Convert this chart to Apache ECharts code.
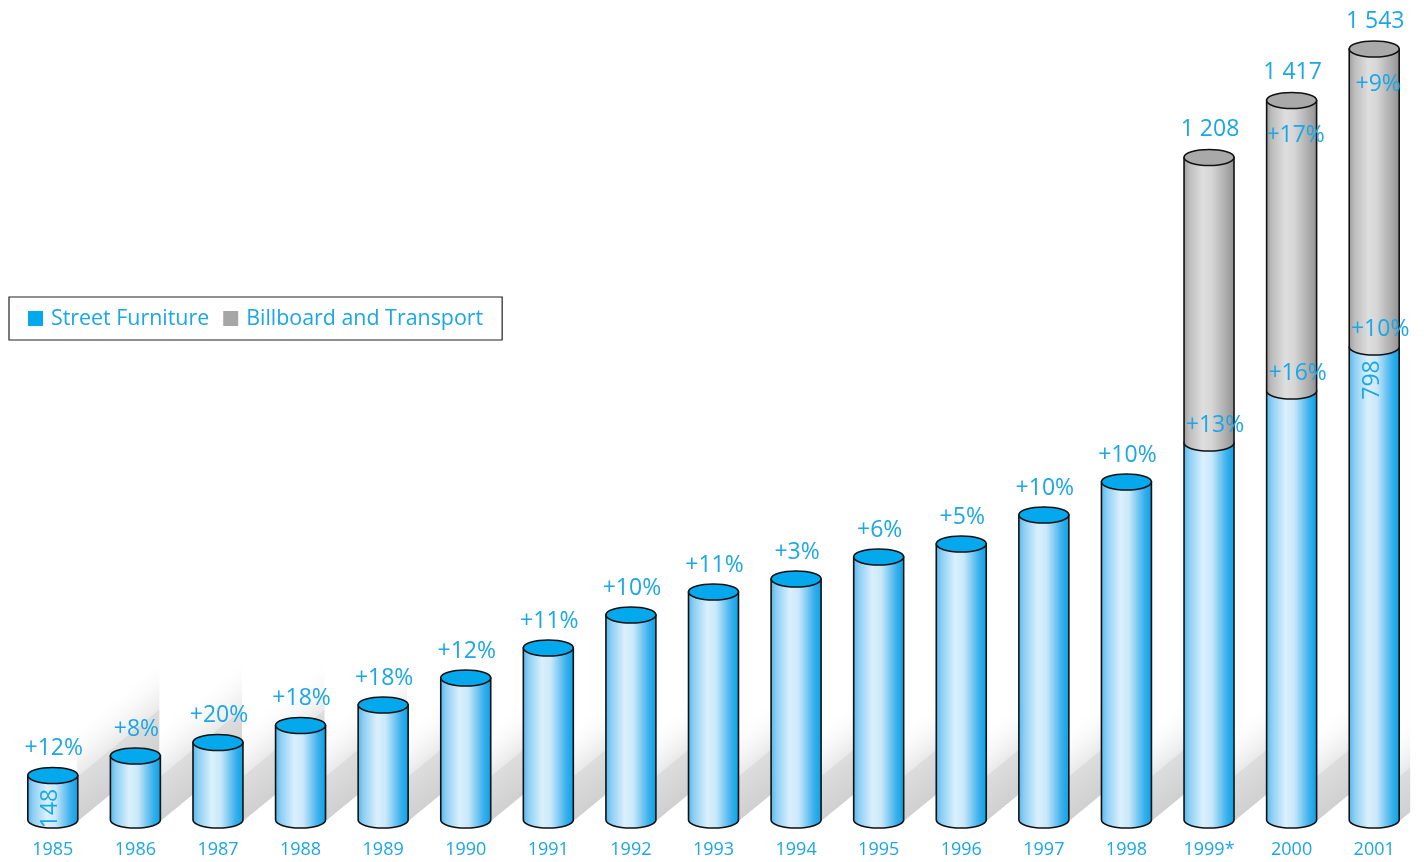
<!DOCTYPE html>
<html>
<head>
<meta charset="utf-8">
<script src="https://cdn.jsdelivr.net/npm/echarts@6/dist/echarts.min.js"></script>
<style>
  html, body { margin: 0; padding: 0; background: #ffffff; }
  #chart { width: 1424px; height: 862px; }
</style>
</head>
<body>
<div id="chart"></div>
<script>
// ---- data (bar heights as drawn in the picture; the original is not drawn to scale) ----
const years = ['1985','1986','1987','1988','1989','1990','1991','1992','1993','1994','1995','1996','1997','1998','1999*','2000','2001'];
const streetFurnitureHeight = [44.5, 64, 77.5, 94.5, 115, 142, 172, 205, 228, 241, 263, 276, 305, 338, 377, 429, 473];
const billboardHeight = [null, null, null, null, null, null, null, null, null, null, null, null, null, null, 285.5, 290.5, 298];
const streetGrowth = ['+12%','+8%','+20%','+18%','+18%','+12%','+11%','+10%','+11%','+3%','+6%','+5%','+10%','+10%','+13%','+16%','+10%'];
const billboardGrowth = ['','','','','','','','','','','','','','','','+17%','+9%'];
const totalLabels = ['','','','','','','','','','','','','','','1 208','1 417','1 543'];
const streetValueLabels = ['148','','','','','','','','','','','','','','','','798'];

const TEXT_BLUE = '#1ba6e6';
const FONT = "'Open Sans', 'Noto Sans', sans-serif";
const RY = 8;
const LINE = '#111111';
const LW = 1.6;

const blueBody = new echarts.graphic.LinearGradient(0, 0, 1, 0, [
  { offset: 0, color: '#4fb4ec' },
  { offset: 0.12, color: '#8dcff4' },
  { offset: 0.38, color: '#daf0fc' },
  { offset: 0.55, color: '#c9e8fa' },
  { offset: 0.85, color: '#38afec' },
  { offset: 1, color: '#05a1e6' }
]);
const greyBody = new echarts.graphic.LinearGradient(0, 0, 1, 0, [
  { offset: 0, color: '#9b9b9b' },
  { offset: 0.12, color: '#bdbdbd' },
  { offset: 0.38, color: '#dedede' },
  { offset: 0.55, color: '#d6d6d6' },
  { offset: 0.85, color: '#a9a9a9' },
  { offset: 1, color: '#8f8f8f' }
]);

function barWidth(api) { return api.size([1, 0])[0] * 0.605; }

function bodyPath(xl, xr, yt, yb, rx) {
  return 'M' + xl + ' ' + yt + ' L' + xl + ' ' + yb +
    ' A' + rx + ' ' + RY + ' 0 0 0 ' + xr + ' ' + yb +
    ' L' + xr + ' ' + yt + ' Z';
}
function ellipsePath(xl, xr, y, rx) {
  return 'M' + xl + ' ' + y + ' A' + rx + ' ' + RY + ' 0 1 0 ' + xr + ' ' + y +
    ' A' + rx + ' ' + RY + ' 0 1 0 ' + xl + ' ' + y + ' Z';
}

function renderShadow(params, api) {
  const i = api.value(0);
  const base = api.coord([i, 0]);
  const w = barWidth(api);
  const xr = base[0] + w / 2 - 1;
  const yb = base[1] + 2;
  const L = (i === years.length - 1) ? 12 : api.size([1, 0])[0];
  const s = 0.82, T1 = 45, T2 = 55;
  const n = Math.sqrt(1 + s * s), px = -s / n, py = -1 / n;
  const d1 = T1 / n, d2 = (T1 + T2) / n;
  const dark = {
    type: 'polygon',
    shape: { points: [[xr, yb], [xr + L, yb - s * L], [xr + L, yb - s * L - T1], [xr, yb - T1]] },
    style: {
      fill: new echarts.graphic.LinearGradient(xr, yb, xr + px * d1, yb + py * d1, [
        { offset: 0, color: '#d0d0d0' },
        { offset: 1, color: '#dddddd' }
      ], true)
    }
  };
  const fade = {
    type: 'polygon',
    shape: { points: [[xr, yb - T1], [xr + L, yb - s * L - T1], [xr + L, yb - s * L - T1 - T2], [xr, yb - T1 - T2]] },
    style: {
      fill: new echarts.graphic.LinearGradient(xr + px * d1, yb + py * d1, xr + px * d2, yb + py * d2, [
        { offset: 0, color: '#e9e9e9' },
        { offset: 1, color: 'rgba(255,255,255,0)' }
      ], true)
    }
  };
  return { type: 'group', children: [fade, dark] };
}

function renderStreet(params, api) {
  const i = api.value(0);
  const base = api.coord([i, 0]);
  const top = api.coord([i, api.value(1)]);
  const w = barWidth(api), rx = w / 2;
  const xl = base[0] - rx, xr = base[0] + rx;
  const children = [{
    type: 'path',
    shape: { pathData: bodyPath(xl, xr, top[1], base[1], rx) },
    style: { fill: blueBody, stroke: LINE, lineWidth: LW }
  }];
  if (!(billboardHeight[i] > 0)) {
    children.push({
      type: 'path',
      shape: { pathData: ellipsePath(xl, xr, top[1], rx) },
      style: { fill: '#03a9ec', stroke: LINE, lineWidth: LW }
    });
  }
  return { type: 'group', children: children };
}

function renderBillboard(params, api) {
  const i = api.value(0);
  const bottom = api.coord([i, api.value(1)]);
  const top = api.coord([i, api.value(2)]);
  const w = barWidth(api), rx = w / 2;
  const xl = bottom[0] - rx, xr = bottom[0] + rx;
  return {
    type: 'group',
    children: [{
      type: 'path',
      shape: { pathData: bodyPath(xl, xr, top[1], bottom[1], rx) },
      style: { fill: greyBody, stroke: LINE, lineWidth: LW }
    }, {
      type: 'path',
      shape: { pathData: ellipsePath(xl, xr, top[1], rx) },
      style: { fill: '#a9a9a9', stroke: LINE, lineWidth: LW }
    }]
  };
}

function txt(x, y, text, size, rotation) {
  return {
    type: 'text', x: x, y: y, rotation: rotation || 0,
    style: { text: text, fill: TEXT_BLUE, fontSize: size, fontFamily: FONT, align: 'center', verticalAlign: 'middle' }
  };
}

function renderLabels(params, api) {
  const i = api.value(0);
  const sfTop = api.coord([i, api.value(1)]);
  const totTop = api.coord([i, api.value(2)]);
  const x = sfTop[0];
  const stacked = billboardHeight[i] > 0;
  const children = [];
  if (stacked) {
    children.push(txt(x + 6, sfTop[1] - 18, streetGrowth[i], 23));
  } else {
    children.push(txt(x + 1, sfTop[1] - 27, streetGrowth[i], 23));
  }
  if (billboardGrowth[i]) children.push(txt(x + 4, totTop[1] + 35, billboardGrowth[i], 23));
  if (totalLabels[i]) children.push(txt(x + 1, totTop[1] - 28, totalLabels[i], 23));
  if (streetValueLabels[i]) children.push(txt(x - 2, sfTop[1] + 33, streetValueLabels[i], 23, Math.PI / 2));
  return { type: 'group', children: children };
}

const streetData = streetFurnitureHeight.map((v, i) => [i, v]);
const billboardData = [];
billboardHeight.forEach((v, i) => { if (v > 0) billboardData.push([i, streetFurnitureHeight[i], streetFurnitureHeight[i] + v]); });
const labelData = streetFurnitureHeight.map((v, i) => [i, v, v + (billboardHeight[i] || 0)]);

const chart = echarts.init(document.getElementById('chart'), null, { renderer: 'canvas' });
chart.setOption({
  animation: false,
  backgroundColor: '#ffffff',
  textStyle: { fontFamily: FONT },
  grid: { left: 11.5, right: 8.5, top: 20, bottom: 42 },
  legend: {
    left: 9, top: 297,
    orient: 'horizontal',
    padding: [11, 19, 11, 19],
    itemGap: 14, itemWidth: 15, itemHeight: 15,
    borderColor: '#222222', borderWidth: 1.2, backgroundColor: '#ffffff',
    textStyle: { color: TEXT_BLUE, fontSize: 21.4, fontFamily: FONT, padding: [0, 0, 0, 3] },
    selectedMode: false,
    data: [
      { name: 'Street Furniture', icon: 'rect', itemStyle: { color: '#03a9ec' } },
      { name: 'Billboard and Transport', icon: 'rect', itemStyle: { color: '#a6a6a6' } }
    ]
  },
  xAxis: {
    type: 'category',
    data: years,
    axisLine: { show: false },
    axisTick: { show: false },
    axisLabel: { color: TEXT_BLUE, fontSize: 18, fontFamily: FONT, margin: 21, interval: 0 }
  },
  yAxis: { type: 'value', min: 0, max: 800, show: false, splitLine: { show: false } },
  series: [
    { type: 'custom', name: 'shadow', z: 1, silent: true, renderItem: renderShadow, data: streetData, encode: { x: 0, y: 1 } },
    { type: 'custom', name: 'Street Furniture', z: 2, itemStyle: { color: '#03a9ec' }, renderItem: renderStreet, data: streetData, encode: { x: 0, y: 1 } },
    { type: 'custom', name: 'Billboard and Transport', z: 3, itemStyle: { color: '#a6a6a6' }, renderItem: renderBillboard, data: billboardData, encode: { x: 0, y: [1, 2] } },
    { type: 'custom', name: 'labels', z: 5, silent: true, renderItem: renderLabels, data: labelData, encode: { x: 0, y: [1, 2] } }
  ]
});
</script>
</body>
</html>
